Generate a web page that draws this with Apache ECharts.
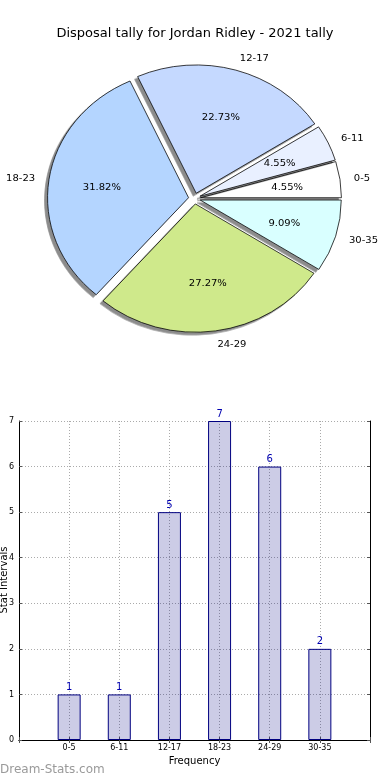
<!DOCTYPE html>
<html>
<head>
<meta charset="utf-8">
<script src="https://cdn.jsdelivr.net/npm/echarts@6/dist/echarts.min.js"></script>
<style>
html,body{margin:0;padding:0;background:#fff;}
#main{position:absolute;left:0;top:0;width:390px;height:780px;}
#pie{position:absolute;left:0;top:0;width:390px;height:400px;transform-origin:194.5px 198.5px;transform:scaleY(0.91);pointer-events:none;}
</style>
</head>
<body>
<div id="main"></div>
<div id="pie"></div>
<script>
const titleText = 'Disposal tally for Jordan Ridley - 2021 tally';
const categories = ['0-5', '6-11', '12-17', '18-23', '24-29', '30-35'];
const counts = [1, 1, 5, 7, 6, 2];
const sliceColors = ['#ffffff', '#e9f0ff', '#c5d9ff', '#b4d5ff', '#cfe98b', '#d9ffff'];
const yTicks = [0, 1, 2, 3, 4, 5, 6, 7];
const xAxisName = 'Frequency';
const yAxisName = 'Stat Intervals';
const watermark = 'Dream-Stats.com';

const FONT = 'DejaVu Sans';
const total = counts.reduce((a, b) => a + b, 0);

// ---------- Pie ----------
const R = 141;
const C = [194.5, 198.5];
const pieData = categories.map((c, i) => ({
  name: c, value: counts[i], selected: true,
  itemStyle: { color: sliceColors[i] }
}));
const pctData = categories.map((c, i) => ({
  name: c, value: counts[i], selected: true
}));
const pie = echarts.init(document.getElementById('pie'), null, { renderer: 'svg' });
pie.setOption({
  animation: false,
  series: [
    {
      type: 'pie', radius: R, center: C, startAngle: 0, clockwise: false,
      selectedMode: 'multiple', selectedOffset: 6, avoidLabelOverlap: false,
      silent: true,
      data: pieData,
      itemStyle: {
        borderColor: '#000', borderWidth: 0.8,
        shadowColor: 'rgba(0,0,0,0.45)', shadowBlur: 0, shadowOffsetX: -3, shadowOffsetY: 3
      },
      label: {
        show: true, position: 'outside', formatter: '{b}', fontFamily: FONT,
        fontSize: 10, color: '#000', distanceToLabelLine: 0
      },
      labelLine: { show: false, length: 14, length2: 0 },
      emphasis: { disabled: true }
    },
    {
      type: 'pie', radius: R * 1.2, center: C, startAngle: 0, clockwise: false,
      selectedMode: 'multiple', selectedOffset: 6, avoidLabelOverlap: false,
      silent: true, z: 5,
      data: pctData,
      itemStyle: { color: 'rgba(0,0,0,0)', borderWidth: 0 },
      label: {
        show: true, position: 'inner', fontFamily: FONT, fontSize: 10, color: '#000',
        formatter: p => (p.value / total * 100).toFixed(2) + '%'
      },
      labelLine: { show: false },
      emphasis: { disabled: true }
    }
  ]
});

// ---------- Bar chart ----------
const xCats = [''].concat(categories, ['']);
const barVals = [null].concat(counts, [null]);
const gridLine = { show: true, lineStyle: { color: '#aaaaaa', type: [1, 2], width: 1 } };
const chart = echarts.init(document.getElementById('main'));
chart.setOption({
  animation: false,
  title: {
    text: titleText, left: 'center', top: 22,
    textStyle: { fontFamily: FONT, fontSize: 13, fontWeight: 'normal', color: '#000' }
  },
  graphic: [
    {
      type: 'text', left: 0, top: 764,
      style: { text: watermark, fontFamily: FONT, fontSize: 12, fill: '#9a9a9a' }
    },
    {
      type: 'text', x: 4, y: 580, rotation: Math.PI / 2,
      style: { text: yAxisName, fontFamily: FONT, fontSize: 10, fill: '#000', align: 'center', verticalAlign: 'middle' }
    }
  ],
  grid: { left: 19, right: 20, top: 421, bottom: 40, containLabel: false, outerBoundsMode: 'none' },
  xAxis: [
    {
      type: 'category', data: xCats, boundaryGap: false, position: 'bottom',
      axisLine: { lineStyle: { color: '#000', width: 1 } },
      axisTick: { inside: true, length: 3, lineStyle: { color: '#555' }, interval: 0 },
      axisLabel: { interval: 0, fontFamily: FONT, fontSize: 8, color: '#000', margin: 4 },
      splitLine: gridLine,
      name: xAxisName, nameLocation: 'middle', nameGap: 16,
      nameTextStyle: { fontFamily: FONT, fontSize: 10, color: '#000' }
    },
    {
      type: 'category', data: xCats, boundaryGap: false, position: 'top',
      axisLine: { lineStyle: { color: '#000', width: 1 } },
      axisTick: { inside: true, length: 3, lineStyle: { color: '#555' }, interval: 0 },
      axisLabel: { show: false }, splitLine: { show: false }
    }
  ],
  yAxis: [
    {
      type: 'value', min: yTicks[0], max: yTicks[yTicks.length - 1], interval: 1,
      axisLine: { show: true, lineStyle: { color: '#000', width: 1 } },
      axisTick: { show: true, inside: true, length: 3, lineStyle: { color: '#555' } },
      axisLabel: { fontFamily: FONT, fontSize: 8, color: '#000', margin: 5 },
      splitLine: gridLine
    },
    {
      type: 'value', min: yTicks[0], max: yTicks[yTicks.length - 1], interval: 1, position: 'right',
      axisLine: { show: true, lineStyle: { color: '#000', width: 1 } },
      axisTick: { show: true, inside: true, length: 3, lineStyle: { color: '#555' } },
      axisLabel: { show: false }, splitLine: { show: false }
    }
  ],
  series: [{
    type: 'bar', data: barVals, barWidth: 23, xAxisIndex: 0, yAxisIndex: 0,
    itemStyle: { color: 'rgba(0,0,128,0.2)', borderColor: '#000080', borderWidth: 1 },
    label: { show: true, position: 'top', distance: 2, fontFamily: FONT, fontSize: 10, color: '#0000b0' }
  }]
});
</script>
</body>
</html>
